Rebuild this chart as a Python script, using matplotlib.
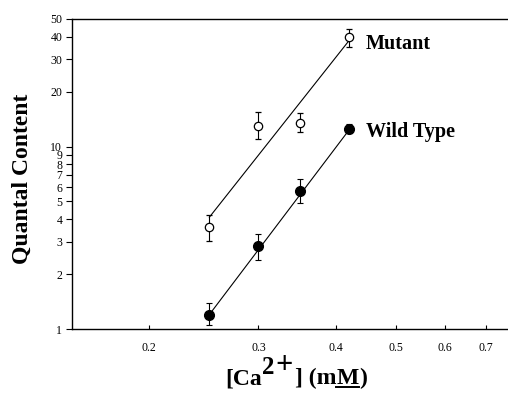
import matplotlib
matplotlib.use("Agg")
import matplotlib.pyplot as plt
from matplotlib.lines import Line2D
from matplotlib.ticker import FixedLocator, NullLocator, FixedFormatter

plt.rcParams['font.family'] = ['Liberation Serif', 'DejaVu Serif']

ca = [0.25, 0.30, 0.35, 0.42]
mutant = [3.6, 13.0, 13.5, 40.0]
mutant_lo = [3.05, 11.0, 12.0, 35.0]
mutant_hi = [4.2, 15.5, 15.3, 44.0]
wild = [1.2, 2.85, 5.7, 12.5]
wild_lo = [1.05, 2.4, 4.9, 11.8]
wild_hi = [1.38, 3.3, 6.6, 13.3]
fit_x = [0.25, 0.42]
mutant_fit = [4.1, 38.0]
wild_fit = [1.2, 12.3]

xticks = [0.2, 0.3, 0.4, 0.5, 0.6, 0.7]
yticks = [1, 2, 3, 4, 5, 6, 7, 8, 9, 10, 20, 30, 40, 50]
ytick_labels = ['1', '2', '3', '4', '5', '6', '7', '8', '9', '10', '20', '30', '40', '50']

fig = plt.figure(figsize=(5.08, 3.96), dpi=100)
W, H = 508.0, 396.0
ax = fig.add_axes([72 / W, 1 - 329 / H, 0.857, 310 / H])
ax.set_xscale('log')
ax.set_yscale('log')
ax.set_xlim(0.15, 0.757)
ax.set_ylim(1, 50)

ax.plot(fit_x, mutant_fit, color='black', lw=0.8)
ax.plot(fit_x, wild_fit, color='black', lw=0.8)

merr = [[m - l for m, l in zip(mutant, mutant_lo)], [h - m for m, h in zip(mutant, mutant_hi)]]
werr = [[m - l for m, l in zip(wild, wild_lo)], [h - m for m, h in zip(wild, wild_hi)]]
ax.errorbar(ca, mutant, yerr=merr, fmt='o', mfc='white', mec='black', ms=6,
            ecolor='black', elinewidth=0.8, capsize=2.5, capthick=0.8, mew=0.9, zorder=3)
ax.errorbar(ca, wild, yerr=werr, fmt='o', mfc='black', mec='black', ms=7,
            ecolor='black', elinewidth=0.8, capsize=2.5, capthick=0.8, zorder=3)

ax.text(0.447, 36.5, 'Mutant', fontsize=14.5, fontweight='bold', va='center', ha='left')
ax.text(0.447, 12.0, 'Wild Type', fontsize=14.5, fontweight='bold', va='center', ha='left')

ax.xaxis.set_major_locator(FixedLocator(xticks))
ax.xaxis.set_minor_locator(NullLocator())
ax.xaxis.set_major_formatter(FixedFormatter([str(t) for t in xticks]))
ax.yaxis.set_major_locator(FixedLocator(yticks))
ax.yaxis.set_minor_locator(NullLocator())
ax.yaxis.set_major_formatter(FixedFormatter(ytick_labels))
ax.tick_params(axis='x', direction='in', length=3, labelsize=8.5, pad=9.5)
ax.tick_params(axis='y', direction='out', length=4, labelsize=8.5, pad=3)

ax.spines['right'].set_visible(False)
for s in ['top', 'left', 'bottom']:
    ax.spines[s].set_linewidth(1.0)

# y label
fig.text(22 / W, 1 - 178.5 / H, 'Quantal Content', fontsize=17, fontweight='bold',
         rotation=90, ha='center', va='center')

# x label built from pieces: [Ca^{2+}] (mM) with underlined M
fig.canvas.draw()
r = fig.canvas.get_renderer()
pieces = [('[Ca', 17, 0, 0.5), ('2', 18, 10, 0.5), ('+', 22, 11, 2.0),
          ('] (m', 17, 0, 0.3), ('M', 17, 0, 0.3), (')', 17, 0, 0)]
base_y = H - 384
x = 225.0
m_box = None
for txt, size, rise, gap in pieces:
    t = fig.text(x / W, (base_y + rise) / H, txt, fontsize=size, fontweight='bold',
                 ha='left', va='baseline')
    bb = t.get_window_extent(r)
    if txt == 'M':
        m_box = (bb.x0, bb.x1)
    x = bb.x1 + gap
fig.add_artist(Line2D([m_box[0] / W, m_box[1] / W], [(base_y - 2.5) / H] * 2,
                      transform=fig.transFigure, color='black', lw=1.4))

fig.savefig('out.png', dpi=100)
